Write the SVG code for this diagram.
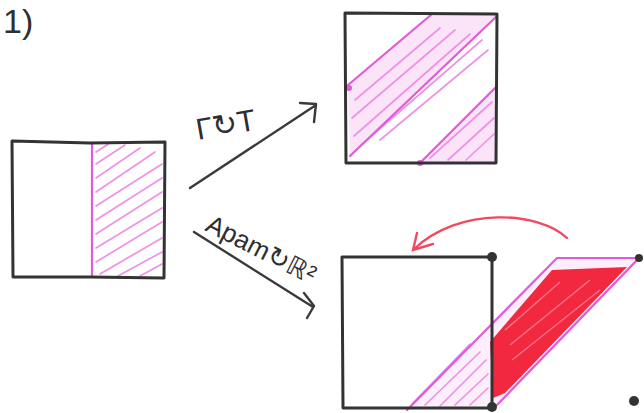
<svg xmlns="http://www.w3.org/2000/svg" width="644" height="413" viewBox="0 0 644 413">
<style>
.frame{fill:none;stroke:#333;stroke-width:3;stroke-linecap:round;stroke-linejoin:round}
.pk{fill:none;stroke:#e25ad8;stroke-width:2.2;stroke-linecap:round}
.hatch{fill:none;stroke:#ee92e6;stroke-width:1.7;stroke-linecap:round}
.ink{fill:none;stroke:#3a3a3a;stroke-width:2.4;stroke-linecap:round;stroke-linejoin:round}
.lbl{font-family:"Liberation Sans",Arial,sans-serif;fill:#2e2e2e}
.dot{fill:#333}
</style>
<rect width="644" height="413" fill="#fff"/>
<text class="lbl" x="3" y="33" font-size="34">1)</text>

<g id="square-left">
<path class="hatch" d="M96 152 L110 143 M96 164 L125 145 M96 178 L140 148 M96 192 L155 152 M96 206 L162 164 M96 220 L162 178 M96 234 L162 192 M96 248 L162 208 M96 262 L162 222 M100 274 L162 238 M118 276 L162 252 M140 276 L162 264"/>
<line class="pk" x1="92" y1="143" x2="92" y2="277" stroke-width="2.6"/>
<path class="frame" d="M12 141 L90 143 L165 142 L164 278 L90 277 L13 277 Z"/>
</g>

<g id="square-top">
<polygon points="348,85 432,14 497,15 350,156" fill="#fbe3f8"/>
<polygon points="420,163 495,88 496,163" fill="#fbe3f8"/>
<path class="hatch" d="M355 100 L440 28 M352 118 L455 30 M354 136 L470 34 M360 146 L482 40 M380 140 L488 50 M430 158 L492 102 M448 160 L494 118 M466 160 L494 134"/>
<path class="pk" d="M348 85 L432 14 M350 156 L497 16 M420 163 L495 88"/>
<circle cx="349" cy="88" r="3" fill="#e25ad8"/>
<circle cx="420" cy="163" r="3" fill="#e25ad8"/>
<path class="frame" d="M345 13 L497 14 L496 163 L346 163 Z"/>
</g>

<g id="square-bottom">
<polygon points="407,410 557,258 639,258 497,405" fill="#fdeefb"/>
<path class="hatch" d="M412 404 L470 344 M425 405 L480 352 M440 406 L486 360 M455 405 L488 374 M470 405 L488 388"/>
<polygon points="490,342 552,270 627,267 505,393 493,398" fill="#f2283f"/>
<path fill="none" stroke="#f87088" stroke-width="1.5" d="M505 330 L560 282 M510 345 L590 280 M512 360 L600 290"/>
<path class="pk" stroke-width="1.8" d="M407 410 L557 258 L639 258 L497 405"/>
<path class="frame" d="M342 257 L492 257 L492 408 L343 408 Z"/>
<circle class="dot" cx="492" cy="257" r="5"/>
<circle class="dot" cx="492" cy="407" r="5"/>
<circle class="dot" cx="639" cy="258" r="4"/>
<circle class="dot" cx="634" cy="401" r="5"/>
</g>

<g id="connectors">
<path class="ink" d="M190 188 L316 105 M300 103 L316 104 L314 122"/>
<path class="ink" d="M194 232 L313 307 M304 293 L314 306 L307 318"/>
<path fill="none" stroke="#f04a60" stroke-width="2.4" stroke-linecap="round" d="M567 238 C540 212 460 205 413 250 M417 233 L413 250 L433 244"/>
</g>

<text class="lbl" font-size="30" transform="translate(198 140) rotate(-10)">Γ↻T</text>
<text class="lbl" font-size="26" transform="translate(204 230) rotate(27)">Apam↻ℝ²</text>
</svg>
